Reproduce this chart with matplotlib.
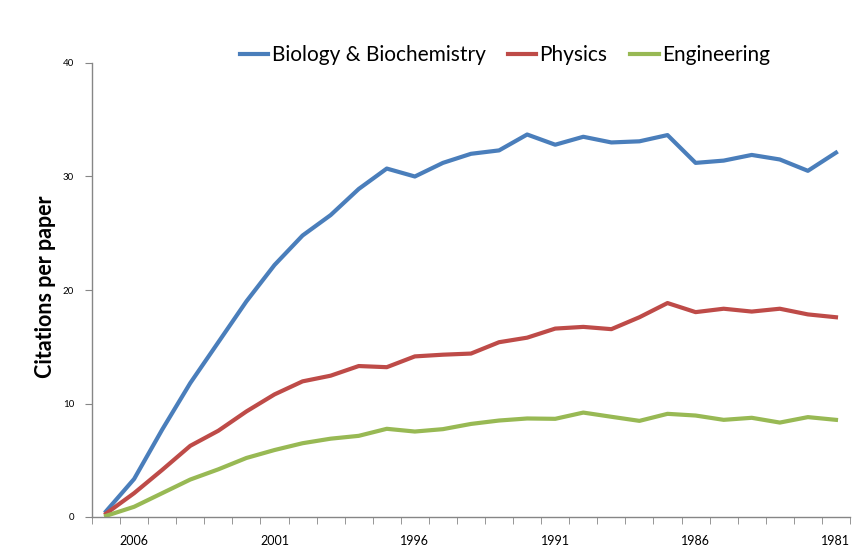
import matplotlib.pyplot as plt
import numpy as np

plt.rcParams['font.family'] = ['Lato', 'DejaVu Sans']

years = list(range(2007, 1980, -1))
biology = [0.5, 3.35, 7.7, 11.8, 15.4, 19.0, 22.2, 24.8, 26.6, 28.9, 30.7, 30.0, 31.2, 32.0,
           32.3, 33.7, 32.8, 33.5, 33.0, 33.1, 33.65, 31.2, 31.4, 31.9, 31.5, 30.5, 32.1]
physics = [0.3, 2.1, 4.15, 6.27, 7.6, 9.3, 10.8, 11.95, 12.45, 13.3, 13.2, 14.15, 14.3, 14.4,
           15.4, 15.8, 16.6, 16.75, 16.55, 17.6, 18.85, 18.05, 18.35, 18.1, 18.35, 17.85, 17.6]
engineering = [0.1, 0.9, 2.1, 3.3, 4.2, 5.2, 5.9, 6.5, 6.9, 7.15, 7.77, 7.53, 7.74, 8.2,
               8.5, 8.68, 8.65, 9.2, 8.83, 8.47, 9.09, 8.94, 8.56, 8.74, 8.32, 8.8, 8.56]

x = np.arange(len(years))

fig = plt.figure(figsize=(8.54, 5.53), dpi=100)
ax = fig.add_axes([92 / 854, 36 / 553, 758 / 854, 454 / 553])

ax.plot(x, biology, color='#4A7EBB', lw=3, label='Biology & Biochemistry', solid_joinstyle='round')
ax.plot(x, physics, color='#BE4B48', lw=3, label='Physics', solid_joinstyle='round')
ax.plot(x, engineering, color='#98B954', lw=3, label='Engineering', solid_joinstyle='round')

ax.set_xlim(-0.5, len(years) - 0.5)
ax.set_ylim(0, 40)

# labels every 5th year, tick marks between categories
lab_idx = list(range(1, len(years), 5))
ax.set_xticks(lab_idx)
ax.set_xticklabels([str(years[i]) for i in lab_idx], fontsize=9)
ax.tick_params(axis='x', which='major', length=0, pad=13)
ax.set_xticks(np.arange(-0.5, len(years)), minor=True)
ax.tick_params(axis='x', which='minor', length=5, color='#868686', direction='out')

ax.set_yticks([0, 10, 20, 30, 40])
ax.tick_params(axis='y', length=5, color='#868686', direction='out', labelsize=7, pad=8)

for s in ['top', 'right']:
    ax.spines[s].set_visible(False)
for s in ['left', 'bottom']:
    ax.spines[s].set_color('#868686')
    ax.spines[s].set_linewidth(1)

fig.text(46 / 854, 1 - 287 / 553, 'Citations per paper', rotation=90, fontsize=15.5,
         fontweight='bold', ha='center', va='center')

fig.legend(loc='center', bbox_to_anchor=(505 / 854, 1 - 55 / 553), ncol=3, frameon=False,
           fontsize=15, handlelength=1.35, handletextpad=0.15, columnspacing=1.1)

fig.savefig('out.png', dpi=100)
